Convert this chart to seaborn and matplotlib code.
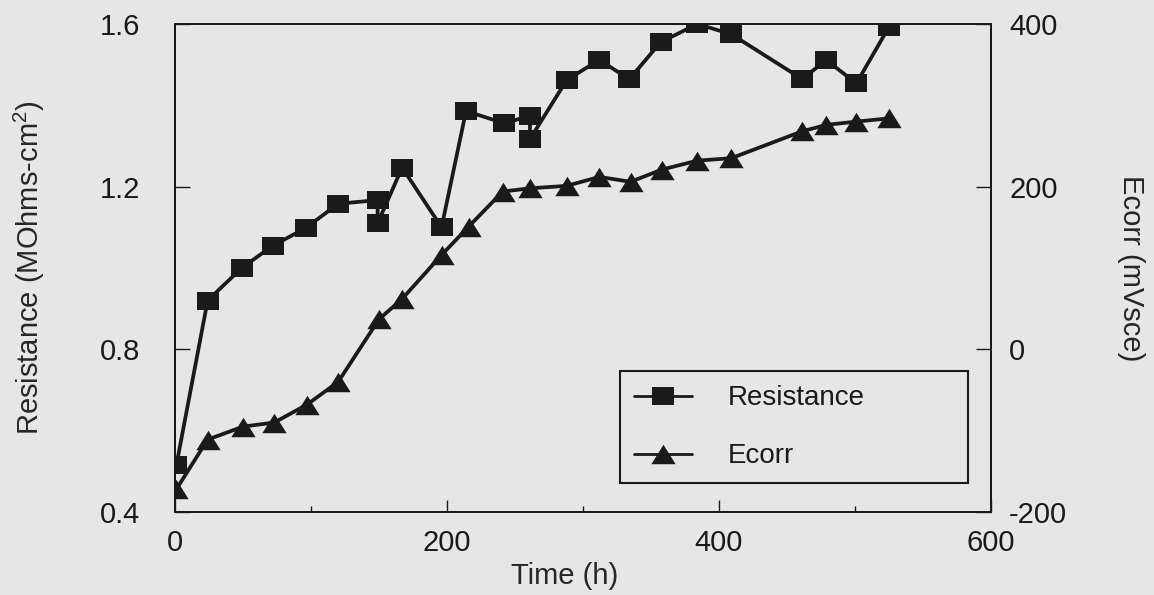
import matplotlib
matplotlib.use("Agg")
import matplotlib.pyplot as plt
import seaborn as sns
from matplotlib.ticker import MultipleLocator, FixedLocator
from matplotlib.lines import Line2D

# ---- data ----
time_res = [1, 24, 49, 72, 96, 120, 149, 149, 167, 196, 214, 242, 261, 261,
            288, 312, 334, 357, 384, 409, 461, 479, 501, 525]
resistance = [0.515, 0.92, 1.00, 1.055, 1.098, 1.158, 1.167, 1.11, 1.247, 1.10,
              1.386, 1.356, 1.374, 1.317, 1.462, 1.512, 1.464, 1.555, 1.600,
              1.575, 1.465, 1.511, 1.454, 1.593]
time_ecorr = [1, 24, 50, 73, 97, 120, 150, 167, 196, 216, 241, 261, 288, 312,
              335, 358, 384, 409, 461, 479, 501, 525]
ecorr = [-172, -111, -95, -90, -68, -40, 37, 62, 116, 151, 194, 198, 201, 212,
         206, 221, 232, 235, 268, 276, 280, 284]

x_ticks = [0, 200, 400, 600]
res_ticks = [0.4, 0.8, 1.2, 1.6]
ecorr_ticks = [-200, 0, 200, 400]
series_labels = ["Resistance", "Ecorr"]

BG = "#e6e6e6"
INK = "#1a1a1a"

sns.set_theme(style="ticks")
plt.rcParams["font.family"] = ["Liberation Sans", "DejaVu Sans"]
plt.rcParams["mathtext.default"] = "regular"
plt.rcParams["axes.edgecolor"] = INK
plt.rcParams["text.color"] = INK
plt.rcParams["xtick.color"] = INK
plt.rcParams["ytick.color"] = INK

fig = plt.figure(figsize=(11.54, 5.95), dpi=100, facecolor=BG)
ax = fig.add_axes([175 / 1154, 1 - 512 / 595, 816 / 1154, 488 / 595])
ax.set_facecolor(BG)
ax2 = ax.twinx()

sq = [(-1.3, -1), (1.3, -1), (1.3, 1), (-1.3, 1)]
tri = [(-1.25, -1), (1.25, -1), (0, 1)]

sns.lineplot(x=time_res, y=resistance, ax=ax, sort=False, estimator=None,
             color=INK, linewidth=2.7, marker=sq, markersize=16.5,
             markeredgewidth=0, markerfacecolor=INK)
sns.lineplot(x=time_ecorr, y=ecorr, ax=ax2, sort=False, estimator=None,
             color=INK, linewidth=2.7, marker=tri, markersize=17.5,
             markeredgewidth=0, markerfacecolor=INK)

ax.set_xlim(0, 600)
ax.set_ylim(0.4, 1.6)
ax2.set_ylim(-200, 400)

ax.xaxis.set_major_locator(FixedLocator(x_ticks))
ax.xaxis.set_minor_locator(MultipleLocator(100))
ax.yaxis.set_major_locator(FixedLocator(res_ticks))
ax2.yaxis.set_major_locator(FixedLocator(ecorr_ticks))
ax.set_yticklabels([f"{v:.1f}" for v in res_ticks])
ax2.set_yticklabels([str(v) for v in ecorr_ticks])

for a in (ax, ax2):
    for s in a.spines.values():
        s.set_visible(True)
        s.set_linewidth(1.4)
        s.set_color(INK)

ax.tick_params(axis="x", which="major", direction="in", length=9, width=1,
               labelsize=21, pad=12, top=False)
ax.tick_params(axis="x", which="minor", direction="in", length=4, width=1, top=False)
ax.tick_params(axis="y", which="major", direction="in", length=11, width=1,
               labelsize=21, pad=25, right=False)
ax2.tick_params(axis="y", which="major", direction="in", length=11, width=1,
                labelsize=21, pad=13, left=False)

ax.set_xlabel("Time (h)", fontsize=21, labelpad=4, x=0.478)
ax.set_ylabel("Resistance (MOhms-cm$^{2}$)", fontsize=21, labelpad=38)
ax2.set_ylabel("Ecorr (mVsce)", fontsize=21, rotation=270, labelpad=56)

handles = [
    Line2D([], [], color=INK, linewidth=2.0, marker=sq, markersize=16.5,
           markeredgewidth=0, markerfacecolor=INK),
    Line2D([], [], color=INK, linewidth=2.0, marker=tri, markersize=17.5,
           markeredgewidth=0, markerfacecolor=INK),
]
leg = ax.legend(handles, series_labels, loc="lower left",
                bbox_to_anchor=(0.545, 0.059, 0.427, 0.232), mode="expand",
                borderaxespad=0, fontsize=20, frameon=True, fancybox=False,
                edgecolor=INK, facecolor=BG, framealpha=1, handlelength=2.1,
                handletextpad=1.3, labelspacing=1.15, borderpad=0.5)
leg.get_frame().set_linewidth(1.5)
ax.set_zorder(ax2.get_zorder() + 1)
ax.patch.set_visible(False)
ax2.patch.set_visible(True)
ax2.patch.set_facecolor(BG)

fig.savefig("out.png", dpi=100, facecolor=BG)
